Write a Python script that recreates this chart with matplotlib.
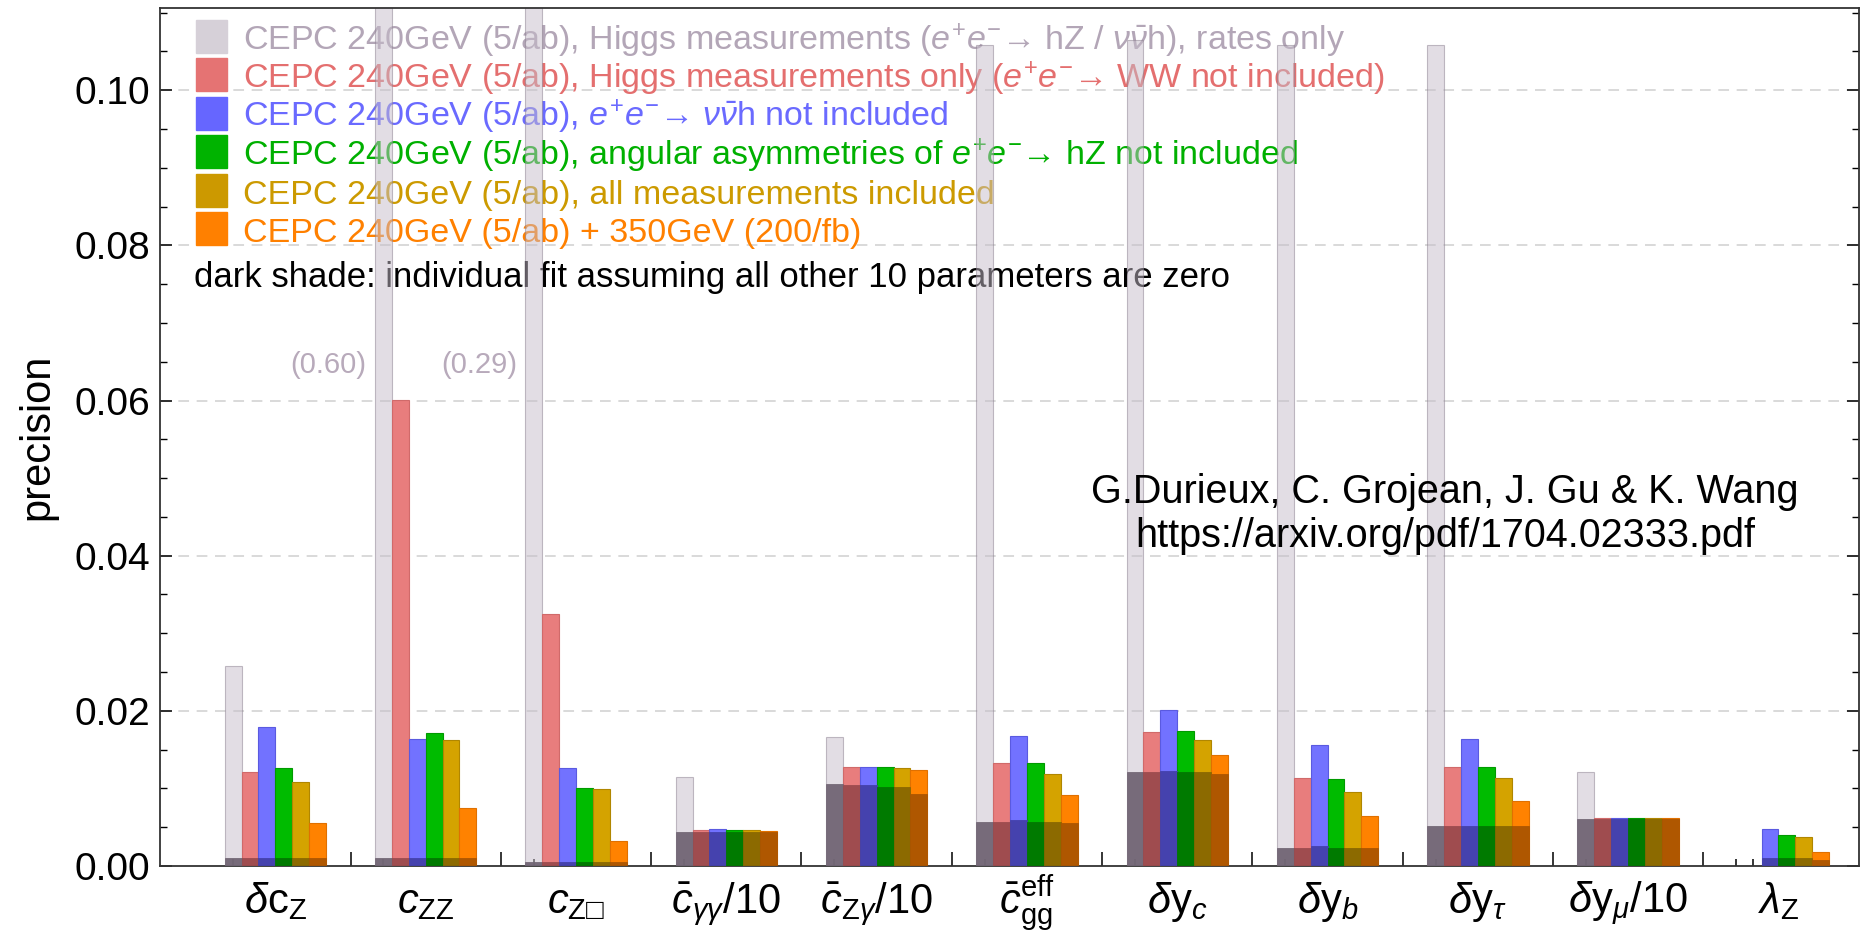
import matplotlib
matplotlib.use("Agg")
import matplotlib.pyplot as plt
from matplotlib.patches import Rectangle
from matplotlib.ticker import MultipleLocator, FormatStrFormatter
import numpy as np

plt.rcParams['font.family'] = ['Liberation Sans', 'DejaVu Sans']
plt.rcParams['mathtext.fontset'] = 'custom'
plt.rcParams['mathtext.rm'] = 'Liberation Sans'
plt.rcParams['mathtext.it'] = 'Liberation Sans:italic'
plt.rcParams['mathtext.bf'] = 'Liberation Sans:bold'
plt.rcParams['mathtext.sf'] = 'Liberation Sans'
plt.rcParams['mathtext.fallback'] = 'stixsans'

# parameters (x axis groups)
params = [r'$\delta\mathrm{c}_\mathrm{Z}$', r'$c_\mathrm{ZZ}$', r'$c_{\mathrm{Z}□}$',
          r'$\bar{c}_{\gamma\gamma}/10$', r'$\bar{c}_{\mathrm{Z}\gamma}/10$',
          r'$\bar{c}_\mathrm{gg}^\mathrm{eff}$', r'$\delta\mathrm{y}_c$', r'$\delta\mathrm{y}_b$',
          r'$\delta\mathrm{y}_\tau$', r'$\delta\mathrm{y}_\mu/10$', r'$\lambda_\mathrm{Z}$']

# global fit precision, one list per scenario
rates_only = [0.0258, 0.60, 0.29, 0.0115, 0.0166, 0.1058, 0.1065, 0.1058, 0.1058, 0.0121, 0.0]
higgs_only = [0.0121, 0.0601, 0.0325, 0.0047, 0.0127, 0.0133, 0.0173, 0.0114, 0.0128, 0.00615, 0.0]
no_vvh = [0.0179, 0.0164, 0.0126, 0.0048, 0.0128, 0.0168, 0.0201, 0.0156, 0.0164, 0.0062, 0.0048]
no_asym = [0.0126, 0.0171, 0.0100, 0.0047, 0.0127, 0.0133, 0.0174, 0.0112, 0.0128, 0.00615, 0.0040]
all_meas = [0.0108, 0.0163, 0.0099, 0.0046, 0.0126, 0.0119, 0.0163, 0.0096, 0.0113, 0.00615, 0.0038]
with_350 = [0.0056, 0.0075, 0.0032, 0.0045, 0.0124, 0.0092, 0.0143, 0.0064, 0.0084, 0.00615, 0.0018]

# dark shade: individual fits (all other parameters set to zero)
rates_only_ind = [0.0010, 0.0010, 0.0005, 0.0044, 0.0106, 0.0057, 0.0121, 0.0023, 0.0051, 0.0061, 0.0]
higgs_only_ind = [0.0010, 0.0010, 0.0005, 0.0044, 0.0105, 0.0057, 0.0121, 0.0023, 0.0051, 0.0061, 0.0]
no_vvh_ind = [0.0010, 0.0010, 0.0005, 0.0044, 0.0104, 0.0059, 0.0123, 0.0026, 0.0052, 0.0061, 0.0010]
no_asym_ind = [0.0010, 0.0010, 0.0005, 0.0044, 0.0102, 0.0057, 0.0121, 0.0023, 0.0051, 0.0061, 0.0010]
all_meas_ind = [0.0010, 0.0010, 0.0005, 0.0044, 0.0102, 0.0057, 0.0121, 0.0023, 0.0051, 0.0061, 0.0010]
with_350_ind = [0.0010, 0.0010, 0.0005, 0.0044, 0.0093, 0.0056, 0.0119, 0.0023, 0.0051, 0.0061, 0.0008]

labels = [
    r'CEPC 240GeV (5/ab), Higgs measurements ($e^{+}e^{-}$→ hZ / $\nu\bar{\nu}$h), rates only',
    r'CEPC 240GeV (5/ab), Higgs measurements only ($e^{+}e^{-}$→ WW not included)',
    r'CEPC 240GeV (5/ab), $e^{+}e^{-}$→ $\nu\bar{\nu}$h not included',
    r'CEPC 240GeV (5/ab), angular asymmetries of $e^{+}e^{-}$→ hZ not included',
    'CEPC 240GeV (5/ab), all measurements included',
    'CEPC 240GeV (5/ab) + 350GeV (200/fb)',
]
light = [rates_only, higgs_only, no_vvh, no_asym, all_meas, with_350]
dark = [rates_only_ind, higgs_only_ind, no_vvh_ind, no_asym_ind, all_meas_ind, with_350_ind]

faces = ['#c6bdca', '#e87d7d', '#7272ff', '#00bb00', '#d4a300', '#ff8200']
edges = ['#8a7e8e', '#d06a6a', '#5a5ae0', '#009a00', '#b08600', '#e07000']
alphas = [0.5, 1, 1, 1, 1, 1]
dark_faces = ['#716574', '#9b4a4d', '#4340aa', '#007700', '#886700', '#ab5500']
patch_cols = ['#d6d0d8', '#e57373', '#6666ff', '#00b300', '#cc9900', '#ff8000']
text_cols = ['#b3a6b7', '#e46f6f', '#6a6aff', '#00b000', '#cc9a00', '#ff8000']

W, H = 1861, 942
fig = plt.figure(figsize=(W / 100, H / 100), dpi=100)
ax_l, ax_r, ax_t, ax_b = 159.5, 1859.0, 8.0, 866.0
ax = fig.add_axes([ax_l / W, 1 - ax_b / H, (ax_r - ax_l) / W, (ax_b - ax_t) / H])

x = np.arange(len(params))
w = 0.1124
ymax = 0.1106

for k in range(6):
    pos = x + (k - 2.5) * w
    ax.bar(pos, light[k], w, color=faces[k], edgecolor=edges[k], linewidth=0.8,
           alpha=alphas[k], zorder=2)
    ax.bar(pos, dark[k], w, color=dark_faces[k], edgecolor=dark_faces[k], linewidth=0.6,
           alpha=0.95, zorder=3)
    # off-scale values
    for xi, v in zip(pos, light[k]):
        if v > ymax:
            ax.annotate(f'({v:.2f})', xy=(xi - w / 2, 0.0646), xytext=(-6, 0),
                        textcoords='offset points', ha='right', va='center',
                        fontsize=21, color='#b8aabb')

for v in np.arange(0.02, 0.101, 0.02):
    ax.axhline(v, color='#cfcfcf', lw=1.1, dashes=(7, 5), zorder=0.5)

ax.set_xlim(-0.771, 10.536)
ax.set_ylim(0, ymax)

ax.set_xticks(x)
ax.set_xticklabels(params, fontsize=30)
ax.set_xticks((x[:, None] + (np.arange(6) - 2.5) * w).ravel(), minor=True)
ax.tick_params(axis='x', which='major', length=0, pad=34)
ax.tick_params(axis='x', which='minor', length=5, width=1.1, direction='in')
plt.setp(ax.get_xticklabels(), va='baseline')

sep = ax.secondary_xaxis('bottom')
sep.set_xticks(x[:-1] + 0.5)
sep.tick_params(length=10, width=1.1, direction='in', labelbottom=False)
sep.spines['bottom'].set_visible(False)

ax.set_yticks(np.arange(0, 0.101, 0.02))
ax.yaxis.set_major_formatter(FormatStrFormatter('%.2f'))
ax.yaxis.set_minor_locator(MultipleLocator(0.005))
ax.tick_params(axis='y', which='major', length=8.5, width=1.1, direction='in',
               right=True, labelsize=28, pad=6.5)
ax.tick_params(axis='y', which='minor', length=5, width=1.0, direction='in', right=True)

for s in ax.spines.values():
    s.set_linewidth(1.3)
    s.set_color('#333333')

ax.set_ylabel('precision', fontsize=30)
ax.yaxis.set_label_coords((57 - ax_l) / (ax_r - ax_l), 0.5)

# legend rows, drawn below the (semi transparent) bars
def ax_xy(px, py):
    return (px - ax_l) / (ax_r - ax_l), (ax_b - py) / (ax_b - ax_t)

for i in range(6):
    top = 20 + 38.4 * i
    x0, y0 = ax_xy(196, top + 33)
    x1, y1 = ax_xy(227, top)
    ax.add_patch(Rectangle((x0, y0), x1 - x0, y1 - y0, transform=ax.transAxes,
                           color=patch_cols[i], zorder=1, clip_on=False))
    tx, ty = ax_xy(243, 50 + 38.4 * i)
    ax.text(tx, ty, labels[i], transform=ax.transAxes, fontsize=24.5,
            color=text_cols[i], va='baseline', ha='left', zorder=1)

tx, ty = ax_xy(194, 287)
ax.text(tx, ty, 'dark shade: individual fit assuming all other 10 parameters are zero',
        transform=ax.transAxes, fontsize=25, color='black', va='baseline', zorder=1)

cx, cy1 = ax_xy(1445, 492)
_, cy2 = ax_xy(1445, 536)
ax.text(cx, cy1, 'G.Durieux, C. Grojean, J. Gu & K. Wang', transform=ax.transAxes,
        fontsize=28.5, ha='center', va='center')
ax.text(cx, cy2, 'https://arxiv.org/pdf/1704.02333.pdf', transform=ax.transAxes,
        fontsize=28.5, ha='center', va='center')

fig.savefig('out.png', dpi=100)
